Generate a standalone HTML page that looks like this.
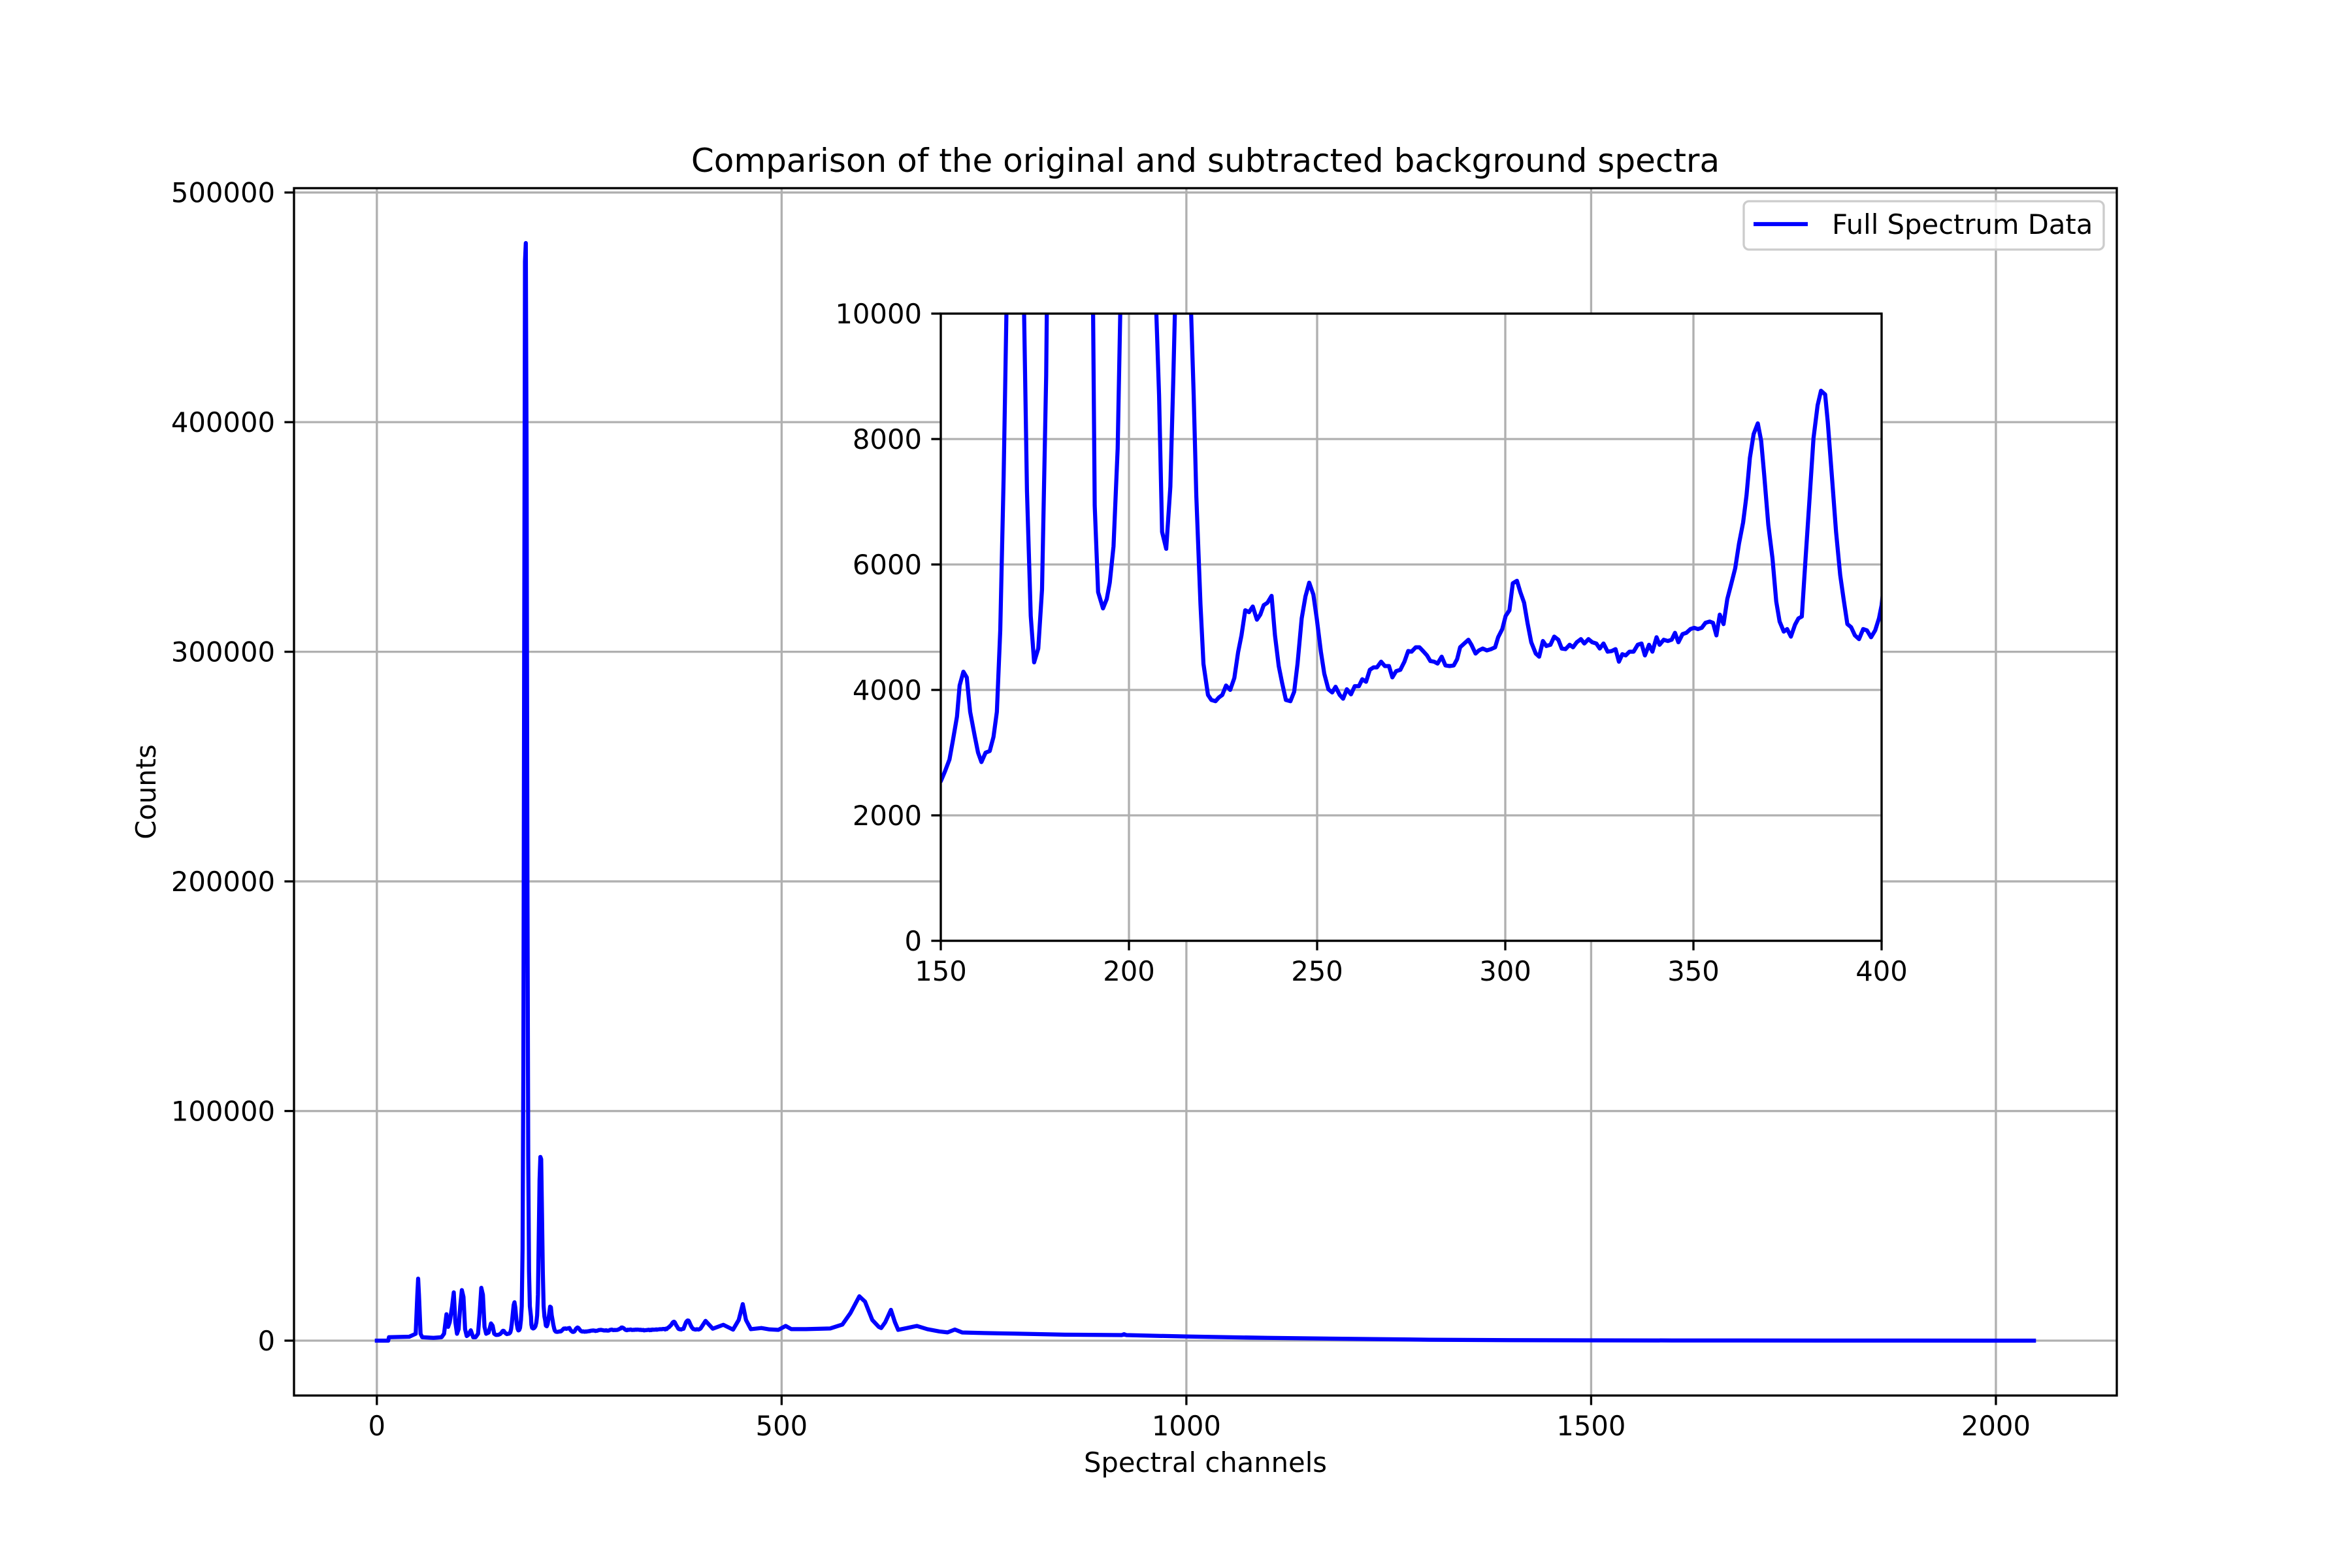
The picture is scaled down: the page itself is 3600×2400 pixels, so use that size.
<!DOCTYPE html>
<html><head><meta charset="utf-8"><title>Spectrum chart</title>
<style>
html,body{margin:0;padding:0;background:#fff;}
svg{display:block;}
text{font-family:"DejaVu Sans","Liberation Sans",sans-serif;fill:#000;}
</style></head>
<body>
<svg id="chart" xmlns="http://www.w3.org/2000/svg" width="3600" height="2400" viewBox="0 0 3600 2400">
<rect width="3600" height="2400" fill="#fff"/>
<text x="1845" y="263" font-size="50" text-anchor="middle">Comparison of the original and subtracted background spectra</text>
<text x="1845" y="2253" font-size="41.7" text-anchor="middle">Spectral channels</text>
<text x="0" y="0" font-size="41.7" text-anchor="middle" transform="translate(238,1212) rotate(-90)">Counts</text>
</svg>
<script>
const channels = [0,14,15,40,45,48,50,51,52,54,56,70,80,83,86,88,90,93,95,97,99,101,103,105,107,109,111,113,116,119,122,125,127,129,131,133,135,138,141,143,145,147,149,
150,151.1,152.3,153.2,154.3,155,156,156.9,157.8,159,159.9,160.8,161.9,163,164,164.9,165.8,166.7,168,169,170,171,172,172.9,173.9,174.8,175.9,176.9,178,179,180,181,182,183,184,185,186,187,188,189,190.4,190.9,191.8,193.1,194.1,194.9,195.9,197,198,199,200,201,202,203,204,205,206,207,208,208.8,209.9,211,211.8,213,214,215,216,217.2,217.9,219,219.8,221,221.9,223,223.9,224.8,225.8,226.9,228,229,229.9,230.9,231.9,232.9,234,234.9,235.8,236.8,237.9,238.8,239.8,240.7,241.7,242.9,243.9,244.8,245.9,246.9,247.9,249,249.9,251,251.9,253,254,254.9,256,256.9,257.9,259,260,261.1,262,263,264,265,265.9,267,268,269.1,270,271,272.1,273.2,274.2,275.1,276.2,277.2,278.3,279.2,280.1,281.1,282,283.1,284.1,285.2,286.3,287.2,288,289.1,290.2,291,292.1,293,294,295.1,296.2,297.3,298.1,299.2,300.1,301.1,302,303.1,304,305,305.9,306.9,308.1,309,310,310.9,312,313,314.1,315,316,317.1,318,319,320.1,321,322.1,323.1,324.2,325.1,326.1,327.2,328.3,329.3,330.2,331.1,332,333,334.1,335.2,336.2,337.1,338.2,339.1,340.2,341,342.1,343.2,344.2,345.1,346,347.1,348.1,349.2,350.2,351.2,352.2,353.2,354.3,355.2,356.1,357,358,359,360,361.1,362.1,363.2,364.1,365,366,367.1,368,368.8,369.9,371,372,372.9,374,374.9,375.9,377,377.9,378.8,379.8,380.9,381.9,383,383.9,385,385.7,386.9,387.9,389,389.9,390.9,391.9,392.9,394,395.1,396.1,397.2,398.3,399.3,400,
406,415,428,440,447,452,456,462,475,485,496,505,512,530,560,575,585,596,603,612,620,623,628,635,640,644,655,667,680,695,705,714,723,750,788,850,920,923,926,1000,1100,1220,1300,1400,1600,1800,2047];
const counts = [0,0,1500,1700,2500,3000,20000,27000,20000,3000,1500,1200,1500,3000,11500,6000,8000,15000,21000,8000,3000,5000,15000,22000,19000,5000,2000,2500,4500,1500,1500,3000,12000,23000,20000,6000,3000,3500,7500,6500,3000,2500,2500,
2544,2700,2890,3190,3575,4070,4290,4200,3650,3270,3000,2850,3000,3025,3250,3650,4950,7400,12000,15500,16700,14500,10500,7170,5180,4440,4660,5600,9000,15000,40000,120000,300000,470000,478000,380000,200000,80000,30000,15000,10500,6940,5560,5300,5450,5710,6290,7850,11000,20000,45000,70000,80000,79000,55000,30000,15000,10500,8700,6520,6250,7240,9000,12000,14800,14500,11000,8700,7090,5370,4415,3920,3840,3820,3880,3920,4070,4000,4190,4600,4870,5270,5240,5330,5120,5200,5350,5390,5500,4870,4380,4110,3840,3820,3970,4420,5140,5490,5710,5520,5140,4610,4260,4010,3960,4050,3920,3860,4010,3930,4060,4060,4170,4130,4320,4360,4360,4450,4380,4380,4200,4300,4320,4450,4620,4610,4680,4680,4610,4550,4460,4450,4420,4530,4390,4380,4390,4490,4680,4740,4800,4720,4580,4630,4660,4630,4650,4680,4840,4970,5180,5270,5700,5740,5560,5390,5070,4760,4580,4530,4780,4700,4720,4850,4800,4660,4650,4720,4680,4760,4810,4740,4810,4760,4740,4660,4740,4610,4620,4650,4450,4570,4550,4610,4610,4720,4740,4550,4720,4610,4840,4720,4800,4780,4800,4910,4760,4890,4910,4970,4990,4970,4990,5070,5090,5070,4870,5200,5050,5450,5680,5940,6330,6670,7100,7700,8080,8250,7970,7430,6630,6100,5410,5090,4930,4970,4850,5040,5140,5170,6100,7090,8010,8540,8770,8710,8270,7320,6520,5830,5450,5050,5000,4870,4810,4970,4950,4840,4950,5140,5350,
8600,5200,6900,4800,9000,15900,9000,5000,5500,4900,4700,6400,5000,5000,5300,7000,12000,19300,17000,9000,6000,5500,8000,13400,8000,4700,5500,6400,5000,4000,3600,4840,3570,3300,3050,2600,2400,2800,2400,1800,1200,700,400,200,80,30,0];

const mainXTicks = [0,500,1000,1500,2000];
const mainXTickLabels = ["0","500","1000","1500","2000"];
const mainYTicks = [0,100000,200000,300000,400000,500000];
const mainYTickLabels = ["0","100000","200000","300000","400000","500000"];
const insetXTicks = [150,200,250,300,350,400];
const insetXTickLabels = ["150","200","250","300","350","400"];
const insetYTicks = [0,2000,4000,6000,8000,10000];
const insetYTickLabels = ["0","2000","4000","6000","8000","10000"];

const NS = "http://www.w3.org/2000/svg";
const svg = document.getElementById('chart');
function mk(tag, attrs, parent){
  const e = document.createElementNS(NS, tag);
  for (const k in attrs) e.setAttribute(k, attrs[k]);
  (parent||svg).appendChild(e);
  return e;
}
function linScale(d0,d1,r0,r1){ return v => r0 + (v-d0)*(r1-r0)/(d1-d0); }

function drawAxes(cfg){
  const {L,R,T,B,xmin,xmax,ymin,ymax,xt,xtl,yt,ytl,prefix,fill} = cfg;
  const g = mk('g', {});
  
  
  const sx = linScale(xmin,xmax,L,R), sy = linScale(ymin,ymax,B,T);
  if (fill) {
    const bg = mk('rect',{x:L,y:T,width:R-L,height:B-T,fill:'#fff'},g);
    
    
  }
  // grid
  xt.forEach((v,i)=>{
    const gl = mk('line',{x1:sx(v),x2:sx(v),y1:T,y2:B,stroke:'#b0b0b0','stroke-width':3.33},g);
    
    
  });
  yt.forEach((v,i)=>{
    const gl = mk('line',{x1:L,x2:R,y1:sy(v),y2:sy(v),stroke:'#b0b0b0','stroke-width':3.33},g);
    
    
  });
  // line
  const cid = prefix + '-clip';
  const cp = mk('clipPath',{id:cid},g);
  mk('rect',{x:L,y:T,width:R-L,height:B-T},cp);
  let d = '';
  channels.forEach((c,i)=>{ d += (i?'L':'M') + sx(c).toFixed(2) + ' ' + sy(counts[i]).toFixed(2); });
  const p = mk('path',{d:d,fill:'none',stroke:'#0000ff','stroke-width':6.25,'stroke-linejoin':'round','stroke-linecap':'square','clip-path':'url(#'+cid+')'},g);
  
  
  // spines
  const sp = mk('rect',{x:L,y:T,width:R-L,height:B-T,fill:'none',stroke:'#000','stroke-width':3.33},g);
  
  
  // ticks
  xt.forEach((v,i)=>{
    mk('line',{x1:sx(v),x2:sx(v),y1:B,y2:B+14.6,stroke:'#000','stroke-width':3.33},g);
    const t = mk('text',{x:sx(v),y:B+61,'font-size':41.7,'text-anchor':'middle'},g);
    t.textContent = xtl[i];
    
    
  });
  yt.forEach((v,i)=>{
    mk('line',{x1:L-14.6,x2:L,y1:sy(v),y2:sy(v),stroke:'#000','stroke-width':3.33},g);
    const t = mk('text',{x:L-29,y:sy(v)+15,'font-size':41.7,'text-anchor':'end'},g);
    t.textContent = ytl[i];
    
    
  });
}

drawAxes({L:450,R:3240,T:288,B:2136,xmin:-102.35,xmax:2149.35,ymin:-23900,ymax:501900,
  xt:mainXTicks,xtl:mainXTickLabels,yt:mainYTicks,ytl:mainYTickLabels,prefix:'main',fill:false});

// legend
const lg = mk('g',{});


const lb = mk('rect',{x:2669,y:308,width:551,height:74,rx:8,fill:'#fff','fill-opacity':0.8,stroke:'#cccccc','stroke-width':3.33},lg);


const ll = mk('line',{x1:2684,x2:2767,y1:343,y2:343,stroke:'#0000ff','stroke-width':6.25},lg);


const lt = mk('text',{x:2804,y:358,'font-size':41.7},lg);
lt.textContent = 'Full Spectrum Data';



drawAxes({L:1440,R:2880,T:480,B:1440,xmin:150,xmax:400,ymin:0,ymax:10000,
  xt:insetXTicks,xtl:insetXTickLabels,yt:insetYTicks,ytl:insetYTickLabels,prefix:'inset',fill:true});
</script>
</body></html>
